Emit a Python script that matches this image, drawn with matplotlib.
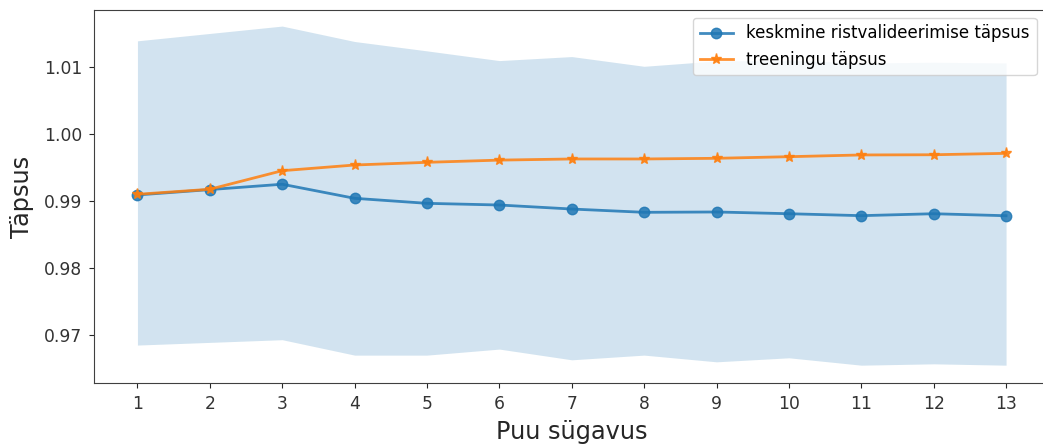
import matplotlib
matplotlib.use("Agg")
import matplotlib.pyplot as plt
import numpy as np

depths = list(range(1, 14))
cv_mean = [0.9909, 0.9917, 0.9925, 0.9904, 0.98965, 0.9894, 0.9888, 0.98831, 0.98836, 0.9881, 0.98781, 0.9881, 0.9878]
train_acc = [0.9910, 0.99175, 0.99452, 0.99537, 0.99577, 0.9961, 0.99627, 0.99627, 0.99637, 0.99661, 0.99687, 0.99690, 0.99711]
band_upper = [1.0139, 1.0150, 1.0161, 1.0138, 1.0124, 1.01095, 1.01155, 1.0101, 1.0109, 1.0110, 1.0106, 1.0107, 1.0106]
band_lower = [0.9685, 0.9689, 0.9693, 0.9670, 0.9670, 0.9679, 0.9663, 0.9670, 0.9660, 0.9666, 0.9655, 0.9657, 0.9655]
y_ticks = [0.97, 0.98, 0.99, 1.00, 1.01]

W, H = 1043, 447
fig = plt.figure(figsize=(W / 100, H / 100), dpi=100)
left, right, top, bottom = 94, 1049.5, 10, 383
ax = fig.add_axes([left / W, (H - bottom) / H, (right - left) / W, (bottom - top) / H])

ax.fill_between(depths, band_lower, band_upper, color="C0", alpha=0.2, linewidth=0)
ax.plot(depths, cv_mean, marker="o", markersize=7.5, color="C0", alpha=0.85,
        linewidth=2, label="keskmine ristvalideerimise täpsus")
ax.plot(depths, train_acc, marker="*", markersize=8, color="C1", alpha=0.85,
        linewidth=2, label="treeningu täpsus")

ax.set_xlim(0.4, 13.6)
ax.set_ylim(0.96284, 1.0185)
ax.set_xticks(depths)
ax.set_yticks(y_ticks)
ax.set_yticklabels([f"{v:.2f}" for v in y_ticks])
ax.tick_params(labelsize=12.3, colors="#262626", labelcolor="#333333")
ax.tick_params(axis="x", pad=5)
ax.tick_params(axis="y", pad=5)
for s in ax.spines.values():
    s.set_color("#404040")
ax.set_xlabel("Puu sügavus", fontsize=17.3, color="#262626", labelpad=5)
ax.set_ylabel("Täpsus", fontsize=17.3, color="#262626", labelpad=7)
ax.legend(loc="upper right", fontsize=12, borderaxespad=0,
          bbox_to_anchor=(0.9865, 0.979))

fig.savefig("out.png", dpi=100)
